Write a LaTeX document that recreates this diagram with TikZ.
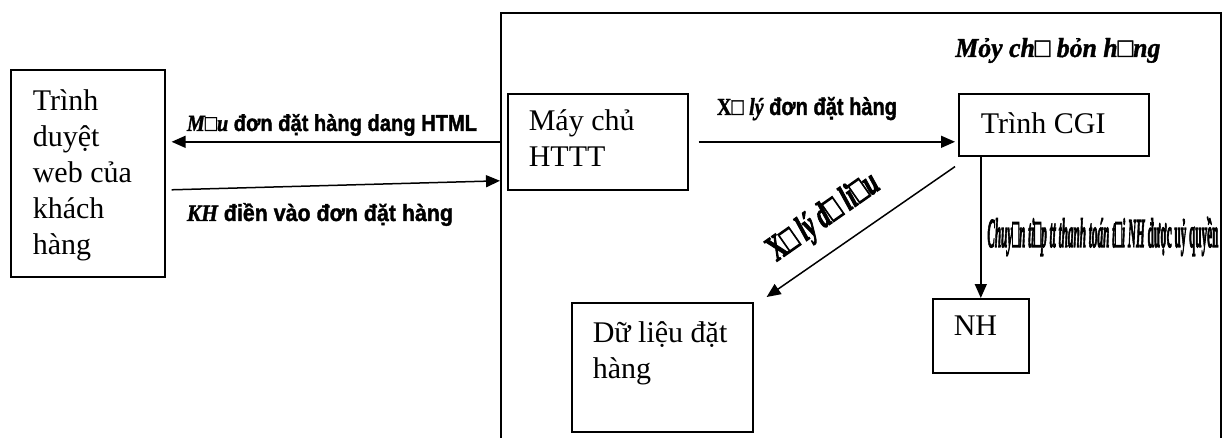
\documentclass[tikz,border=0pt]{standalone}
\usepackage{fontspec}
\usepackage{graphicx}
\setmainfont{Liberation Serif}
% heavy faces for the connector labels
\newfontfamily\lblsans[RawFeature={embolden=1.5}]{Liberation Sans Bold}
\newfontfamily\lblserif[RawFeature={embolden=1.5}]{Liberation Serif Bold}
\newfontfamily\lblit[RawFeature={embolden=1.5}]{Liberation Serif Bold Italic}
% extra heavy faces for the squeezed labels
\newfontfamily\tallserif[RawFeature={embolden=3.5}]{Liberation Serif Bold}
\newfontfamily\tallit[RawFeature={embolden=3.5}]{Liberation Serif Bold Italic}
\usetikzlibrary{arrows.meta,calc}

% one drawing unit = 0.5pt
\newdimen\px \px=0.5pt
% text cell: width, height, first baseline from top, left pad, text
\newcommand\cell[5]{\parbox[c][#2\px][t]{#1\px}{\fontsize{15pt}{18pt}\selectfont
  \raggedright\leftskip=#4\px\parindent=0pt
  \vspace*{\dimexpr#3\px-0.9em\relax}\rule{0pt}{0.9em}#5}}
\newcommand\sq{□}
\newcommand\ibs[1]{{\lblit #1}}

\tikzset{
  cellbox/.style={draw, line width=0.8pt, inner sep=0pt, anchor=north west},
  frame/.style={draw, line width=0.9pt, inner sep=0pt, anchor=north west},
  arr/.style={line width=0.75pt, -{Triangle[length=7pt,width=6pt]}},
  lbl/.style={inner sep=0pt}
}

\begin{document}
\begin{tikzpicture}[x=0.5pt,y=-0.5pt]
\clip (0,0) rectangle (1230,438);
\useasboundingbox (0,0) rectangle (1230,438);

% the shop server frame (runs past the lower edge)
\node[frame, minimum width=360pt, minimum height=225pt] (shop) at (500,12) {};

% boxes
\node[cellbox] (browser) at (10,69)  {\cell{154}{207}{41}{22}{Trình\\duyệt\\web của\\khách\\hàng}};
\node[cellbox] (http)    at (507,93) {\cell{180}{96}{37}{21}{Máy chủ\\HTTT}};
\node[cellbox] (cgi)     at (958,93) {\cell{190}{62}{40}{22}{Trình CGI}};
\node[cellbox] (data)    at (571,302){\cell{181}{129}{40}{21}{Dữ liệu đặt\\hàng}};
\node[cellbox] (nh)      at (932,298){\cell{96}{74}{37}{21}{NH}};

% connectors
\draw[arr] (shop.west |- http.center) -- ($(browser.east |- http.center)+(6,0)$);
\draw[arr] ($(browser.east)+(6,16.5)$) -- ($(shop.west |- http.center)+(0,39)$);
\draw[arr] ($(http.east)+(10,0)$) -- ($(cgi.west |- http.east)+(-3,0)$);
\draw[arr] ($(cgi.south west)+(-3,10)$) -- ($(data.north east)+(13,-5)$);
\draw[arr] (cgi.south -| nh.north) -- (nh.north);

% labels
\node[lbl, anchor=base] (l1) at (332,131)
  {\resizebox{145pt}{8.5pt}{\lblsans\ibs{M}\sq\ibs{u} đơn đặt hàng dang HTML}};
\node[lbl, anchor=base] (l2) at (320,221)
  {\resizebox{133pt}{9pt}{\lblsans\ibs{KH} điền vào đơn đặt hàng}};
\node[lbl, anchor=base] (l3) at (807,115)
  {\resizebox{90pt}{9pt}{\lblsans{\lblserif X\sq} \ibs{lý} đơn đặt hàng}};
\node[lbl, rotate=35] (l4) at (824,218)
  {\resizebox{64pt}{12.5pt}{\tallserif X\sq{} \tallit lý d\sq{} li\sq u}};
\node[lbl, anchor=base west] (l5) at (987,247)
  {\resizebox{115.5pt}{15pt}{\tallit Chuy\sq n ti\sq p tt thanh toán t\sq i NH \tallserif được uỷ quyền}};
\node[lbl, anchor=base west] (l6) at (955,57)
  {\resizebox{102.5pt}{9.5pt}{\lblit Mỏy ch\sq{} bỏn h\sq ng}};
\end{tikzpicture}
\end{document}
